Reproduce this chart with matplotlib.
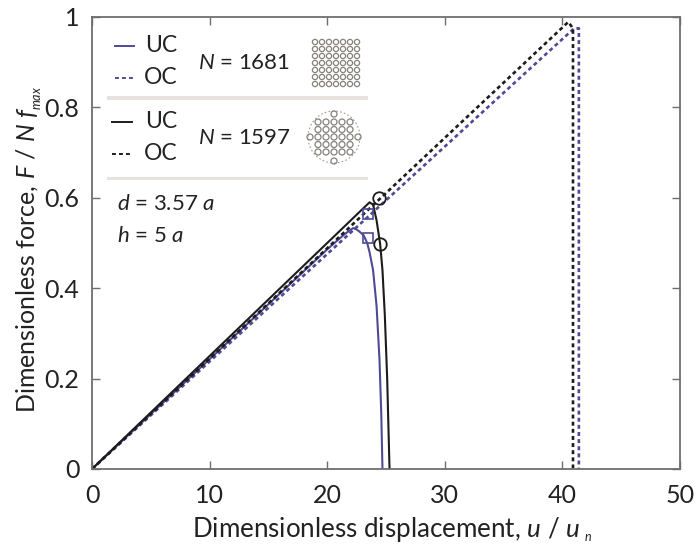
import matplotlib
matplotlib.use("Agg")
import matplotlib.pyplot as plt
from matplotlib.patches import Circle, Rectangle

plt.rcParams['font.family'] = ['Lato', 'DejaVu Sans']
plt.rcParams['mathtext.fontset'] = 'custom'
plt.rcParams['mathtext.rm'] = 'Lato'
plt.rcParams['mathtext.it'] = 'Lato:italic'

BLUE = '#4f4a97'
BLACK = '#1c1c1c'
GREY = '#6e6e6e'
RULE = '#e8e2de'
TEXT = '#222222'

# curves
uc_square_x = [0, 10, 20, 21.5, 22.2, 22.5, 22.8, 23.1, 23.4, 23.6, 23.9, 24.2, 24.45, 24.6, 24.7]
uc_square_y = [0, 0.243, 0.486, 0.52, 0.533, 0.53, 0.524, 0.517, 0.5, 0.48, 0.44, 0.36, 0.24, 0.12, 0]
oc_square_x = [0, 41.0, 41.4, 41.4]
oc_square_y = [0, 0.975, 0.975, 0]
uc_circle_x = [0, 23.6, 23.9, 24.2, 24.5, 24.7, 24.9, 25.1, 25.3]
uc_circle_y = [0, 0.59, 0.585, 0.55, 0.498, 0.44, 0.34, 0.2, 0]
oc_circle_x = [0, 40.5, 40.9, 40.9]
oc_circle_y = [0, 0.989, 0.975, 0]
square_marks_x = [23.5, 23.5]
square_marks_y = [0.565, 0.51]
circle_marks_x = [24.4, 24.5]
circle_marks_y = [0.6, 0.498]

x_ticks = [0, 10, 20, 30, 40, 50]
y_ticks = [0, 0.2, 0.4, 0.6, 0.8, 1]
y_labels = ['0', '0.2', '0.4', '0.6', '0.8', '1']

W, H = 699, 548
fig = plt.figure(figsize=(W / 100, H / 100), dpi=100)
ax = fig.add_axes([92 / W, 1 - 469 / H, 588 / W, 452 / H])


def px(x, y):
    # picture pixels to figure fractions, for the hand drawn legend
    return x / W, 1 - y / H


ax.plot(uc_square_x, uc_square_y, color=BLUE, lw=1.5)
ax.plot(oc_square_x, oc_square_y, color=BLUE, lw=1.9, ls=(0, (1.5, 1.2)))
ax.plot(uc_circle_x, uc_circle_y, color=BLACK, lw=1.5)
ax.plot(oc_circle_x, oc_circle_y, color=BLACK, lw=1.9, ls=(0, (1.5, 1.2)))
ax.plot(square_marks_x, square_marks_y, ls='none', marker='s', ms=7, mfc='none', mec=BLUE, mew=1.2)
ax.plot(circle_marks_x, circle_marks_y, ls='none', marker='o', ms=9, mfc='none', mec=BLACK, mew=1.3)

ax.set_xlim(0, 50)
ax.set_ylim(0, 1)
ax.set_xticks(x_ticks)
ax.set_yticks(y_ticks)
ax.set_yticklabels(y_labels)
ax.tick_params(direction='in', top=True, right=True, length=6, width=1, color=GREY,
               labelsize=18, labelcolor=TEXT)
ax.tick_params(axis='x', pad=11)
ax.tick_params(axis='y', pad=9)
for s in ax.spines.values():
    s.set_color(GREY)
    s.set_linewidth(1.3)

# axis titles, subscripts set apart because they sit small and low
fig.text(*px(192, 529), r'Dimensionless displacement, $u$ / $u$', fontsize=18.7, color=TEXT, va='center')
fig.text(*px(584, 537), r'$n$', fontsize=9, color=TEXT, va='center')
fig.text(*px(27, 413), r'Dimensionless force, $F$ / $N$ $f$', fontsize=18, color=TEXT,
         rotation=90, ha='center', va='bottom')
fig.text(*px(37, 110), r'$max$', fontsize=9, color=TEXT, rotation=90, ha='center', va='bottom')

# legend block
for y0, col, x0, x1 in [(46, BLUE, 115, 134), (122, BLACK, 112, 132)]:
    fig.add_artist(plt.Line2D(*zip(px(x0, y0), px(x1, y0)), color=col, lw=1.4))
    fig.add_artist(plt.Line2D(*zip(px(x0, y0 + 32), px(x1, y0 + 32)), color=col, lw=1.4, ls=(0, (2, 1.6))))
    fig.text(*px(145, y0), 'UC', fontsize=16.5, color=TEXT, va='center')
    fig.text(*px(144, y0 + 32), 'OC', fontsize=16.5, color=TEXT, va='center')
fig.text(*px(198, 63), r'$N$ = 1681', fontsize=16, color=TEXT, va='center')
fig.text(*px(198, 138), r'$N$ = 1597', fontsize=16, color=TEXT, va='center')
for y0 in [98, 178]:
    fig.add_artist(Rectangle(px(107, y0 + 1.5), 261 / W, 3 / H, transform=fig.transFigure, color=RULE, lw=0))
fig.text(*px(117, 204), r'$d$ = 3.57 $a$', fontsize=16, color=TEXT, va='center')
fig.text(*px(117, 236), r'$h$ = 5 $a$', fontsize=16, color=TEXT, va='center')


# little hole layouts, in pixel units
def hole(x, y, r=2.6, col='#85807c', ls='-', lw=0.9):
    fig.add_artist(Circle((x, H - y), r, transform=None, fill=False, ec=col, lw=lw, ls=ls))


for row in range(7):
    for col in range(7):
        hole(315 + col * 7, 42 + row * 7)

hole(334, 137, r=26, col='#a09a96', ls=(0, (1.5, 2)), lw=0.8)
for off, n in [(-15, 5), (-7.5, 5), (0, 7), (7.5, 5), (15, 5)]:
    for k in range(n):
        hole(334 + (k - (n - 1) / 2) * 8, 137 + off, r=3)
hole(334, 114, r=3)
hole(334, 161, r=3)

fig.savefig('out.png', dpi=100)
